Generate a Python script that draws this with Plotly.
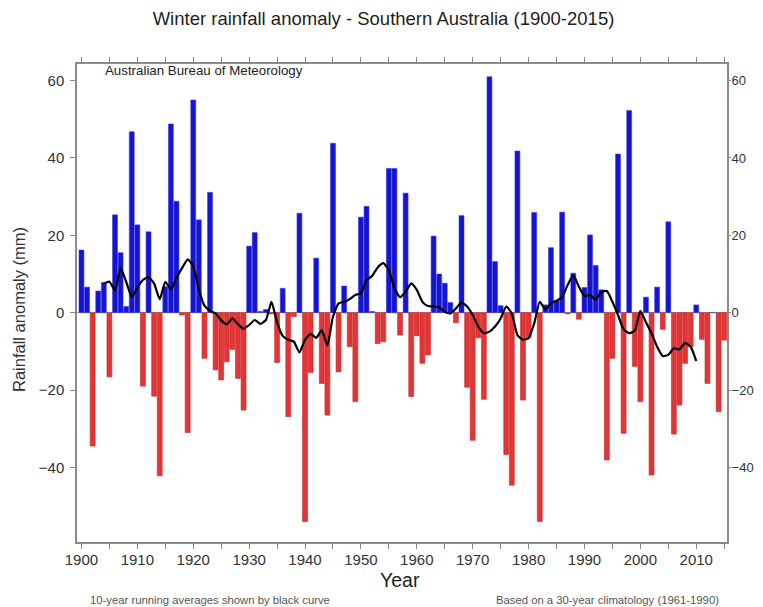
import plotly.graph_objects as go

years = list(range(1900, 2016))
anomaly = [
    16.2, 6.6, -34.5, 5.6, 7.8, -16.6, 25.3, 15.5, 1.6, 46.8,      # 1900-1909
    22.7, -19.0, 20.9, -21.6, -42.2, 6.7, 48.8, 28.8, -0.6, -31.0,  # 1910-1919
    55.0, 24.0, -11.8, 31.1, -14.8, -17.4, -12.7, -9.5, -17.0, -25.2,  # 1920-1929
    17.2, 20.7, 0.3, 0.8, -0.3, -12.9, 6.3, -26.9, -1.0, 25.7,     # 1930-1939
    -54.0, -15.5, 14.1, -18.3, -26.5, 43.8, -15.3, 6.9, -8.8, -23.0,  # 1940-1949
    24.7, 27.5, 0.3, -8.0, -7.5, 37.3, 37.3, -5.8, 30.9, -21.7,    # 1950-1959
    -6.0, -13.1, -10.9, 19.8, 10.0, 7.6, 2.6, -2.6, 25.1, -19.3,   # 1960-1969
    -33.0, -6.5, -22.4, 61.0, 13.2, 1.8, -36.7, -44.6, 41.8, -22.6,  # 1970-1979
    -6.5, 25.9, -54.0, 2.0, 16.8, 3.0, 26.0, -0.3, 10.2, -1.7,     # 1980-1989
    6.5, 20.1, 12.2, 5.9, -38.1, -11.8, 41.0, -31.2, 52.3, -13.9,  # 1990-1999
    -23.0, 4.0, -42.0, 6.6, -4.3, 23.5, -31.4, -23.9, -13.1, -8.8,  # 2000-2009
    2.0, -6.9, -18.3, 0.0, -25.6, -7.1,                            # 2010-2015
]

avg_years = list(range(1904, 2011))
running_avg = [
    7.5, 8.0, 5.8, 11.5, 8.0, 4.0,                                  # 1904-1909
    6.5, 8.5, 9.2, 7.5, 3.5, 8.0, 6.0, 9.0, 11.5, 13.8,             # 1910-1919
    12.0, 6.0, 1.8, 0.5, -0.2, -2.0, -3.0, -1.5, -3.0, -4.2,        # 1920-1929
    -3.2, -1.9, -2.9, -1.9, 2.8, -2.5, -6.0, -7.0, -7.5, -10.3,     # 1930-1939
    -7.0, -5.5, -6.5, -4.5, -8.5, -1.0, 2.4, 2.8, 3.5, 4.6,         # 1940-1949
    5.0, 8.4, 9.5, 11.7, 12.8, 11.0, 6.3, 4.0, 5.4, 7.6,            # 1950-1959
    5.9, 2.8, 1.7, 1.6, 1.4, 0.2, -0.2, 1.1, 2.6, 1.6,              # 1960-1969
    -0.6, -3.6, -5.3, -4.9, -3.6, -1.5, 1.6, -0.2, -5.8, -7.0,      # 1970-1979
    -6.6, -2.8, 2.8, 0.9, 2.4, 3.1, 4.0, 7.2, 9.7, 6.7,             # 1980-1989
    4.3, 4.6, 3.3, 5.4, 5.6, 2.8, -0.6, -4.3, -5.3, -4.7,           # 1990-1999
    0.5, -2.5, -5.3, -8.8, -11.2, -10.9, -9.2, -9.5, -7.8, -8.8,    # 2000-2009
    -12.5,                                                          # 2010
]

x_tick_vals = list(range(1900, 2016, 5))
x_tick_text = [str(v) if v % 10 == 0 else "" for v in x_tick_vals]
y_tick_vals = [-40, -20, 0, 20, 40, 60]

BLUE = "#1414d2"
RED = "#e33535"
bar_colors = [BLUE if v >= 0 else RED for v in anomaly]
bar_lines = ["#3a3ae0" if v >= 0 else "#c42a2a" for v in anomaly]

FONT = "Liberation Sans, Arial, sans-serif"

# the page body adds an 8px offset; lay out in screen pixels and convert
OFF = 8
W, H = 763 - OFF, 607 - OFF
PL, PR, PT, PB = 77, 727, 64, 542           # plot frame in screen pixels
L, R, T, B = PL - OFF, (763 - PR), PT - OFF, H - (PB - OFF)
PW, PH = W - L - R, H - T - B


def px(sx):
    return (sx - PL) / PW


def py(sy):
    return (PB - sy) / PH


fig = go.Figure()
fig.add_trace(go.Bar(
    x=years, y=anomaly,
    marker=dict(color=bar_colors, line=dict(color=bar_lines, width=0.6)),
    width=0.88,
    showlegend=False,
    hoverinfo="x+y",
))
fig.add_trace(go.Scatter(
    x=avg_years, y=running_avg, mode="lines",
    line=dict(color="black", width=2.2, shape="spline", smoothing=0.5),
    showlegend=False,
))
# invisible trace to anchor right-hand axis
fig.add_trace(go.Scatter(
    x=[years[0]], y=[0], yaxis="y2", mode="markers",
    marker=dict(opacity=0), showlegend=False, hoverinfo="skip",
))

yr = [-59.3, 64.3]
fig.update_layout(
    width=W, height=H,
    margin=dict(l=L, r=R, t=T, b=B, autoexpand=False),
    paper_bgcolor="white", plot_bgcolor="white",
    bargap=0.1,
    title=dict(
        text="Winter rainfall anomaly - Southern Australia (1900-2015)",
        x=(383.5 - OFF) / W, xref="container", y=1 - (19 - OFF) / H, yref="container",
        xanchor="center", yanchor="middle",
        font=dict(family=FONT, size=18.5, color="#1e1e1e"),
    ),
    xaxis=dict(
        range=[1899.2, 2015.5], automargin=False,
        tickmode="array", tickvals=x_tick_vals, ticktext=x_tick_text,
        ticks="outside", ticklen=5, tickcolor="#888888", tickwidth=1,
        showline=True, linecolor="#8a8a8a", linewidth=1.5, mirror="ticks",
        showgrid=False, zeroline=False, ticklabelstandoff=-2,
        tickfont=dict(family=FONT, size=15, color="#333333"),
    ),
    yaxis=dict(
        range=yr, automargin=False,
        tickmode="array", tickvals=y_tick_vals,
        ticks="outside", ticklen=5, tickcolor="#888888", tickwidth=1,
        showline=True, linecolor="#8a8a8a", linewidth=1.5, mirror=True,
        showgrid=False, ticklabelstandoff=3,
        zeroline=True, zerolinecolor="#9a9ab0", zerolinewidth=1,
        tickfont=dict(family=FONT, size=15, color="#333333"),
    ),
    yaxis2=dict(
        range=yr, overlaying="y", side="right", automargin=False,
        tickmode="array", tickvals=y_tick_vals,
        ticks="outside", ticklen=3, tickcolor="#888888", tickwidth=1,
        showline=False, showgrid=False, zeroline=False, ticklabelstandoff=-2,
        tickfont=dict(family=FONT, size=13, color="#333333"),
    ),
    annotations=[
        dict(text="Rainfall anomaly (mm)", x=px(19), y=py(310), textangle=-90,
             xref="paper", yref="paper", xanchor="center", yanchor="middle", showarrow=False,
             font=dict(family=FONT, size=16.5, color="#333333")),
        dict(text="Year", x=px(400), y=py(580),
             xref="paper", yref="paper", xanchor="center", yanchor="middle", showarrow=False,
             font=dict(family=FONT, size=19.5, color="#1e1e1e")),
        dict(text="Australian Bureau of Meteorology", x=px(103), y=py(71),
             xref="paper", yref="paper", xanchor="left", yanchor="middle", showarrow=False,
             font=dict(family=FONT, size=13.3, color="#222222")),
        dict(text="10-year running averages shown by black curve", x=px(88), y=py(600),
             xref="paper", yref="paper", xanchor="left", yanchor="middle", showarrow=False,
             font=dict(family=FONT, size=11.3, color="#555555")),
        dict(text="Based on a 30-year climatology (1961-1990)", x=px(721), y=py(600),
             xref="paper", yref="paper", xanchor="right", yanchor="middle", showarrow=False,
             font=dict(family=FONT, size=11.3, color="#555555")),
    ],
)

fig.write_html("out.html")
